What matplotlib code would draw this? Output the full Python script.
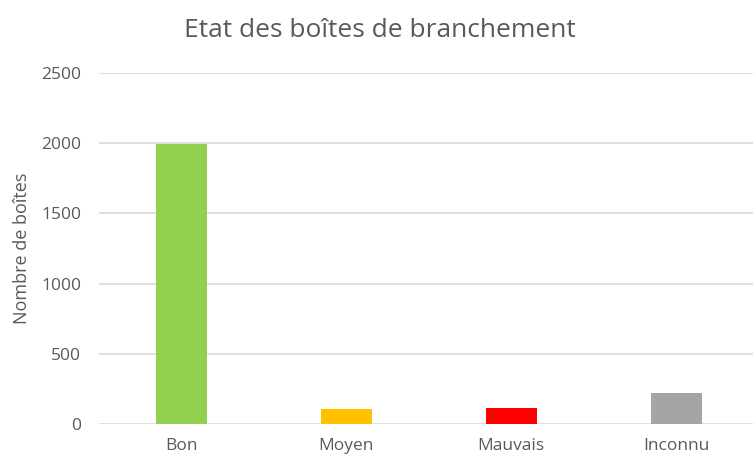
import matplotlib
matplotlib.use("Agg")
import matplotlib.pyplot as plt

categories = ["Bon", "Moyen", "Mauvais", "Inconnu"]
values = [1995, 107, 114, 221]
colors = ["#92d050", "#ffc000", "#ff0000", "#a5a5a5"]
yticks = [0, 500, 1000, 1500, 2000, 2500]

plt.rcParams['font.family'] = ['Open Sans', 'DejaVu Sans']

fig = plt.figure(figsize=(7.53, 4.58), dpi=100)
W, H = 753, 458
left, right = 99, 753
top, bottom = 73, 424
ax = fig.add_axes([left / W, (H - bottom) / H, (right - left) / W, (bottom - top) / H])

x = list(range(len(categories)))
ax.bar(x, values, width=0.31, color=colors, zorder=3)
ax.set_xlim(-0.5, 3.5 - (758.5 - 753) / 165)
ax.set_ylim(0, 2500)
ax.set_yticks(yticks)
ax.set_yticklabels([str(v) for v in yticks])
ax.set_xticks(x)
ax.set_xticklabels(categories)
ax.yaxis.grid(True, color="#d9d9d9", linewidth=1.2, zorder=0)
ax.set_axisbelow(True)
for s in ax.spines.values():
    s.set_visible(False)
ax.tick_params(axis="both", length=0, labelsize=12.5, colors="#595959")
ax.tick_params(axis="y", pad=13)
ax.tick_params(axis="x", pad=10)
ax.set_ylabel("Nombre de boîtes", fontsize=13, color="#595959", labelpad=7)
fig.text(380 / W, 1 - 37 / H, "Etat des boîtes de branchement", ha="center", va="baseline",
         fontsize=19, color="#595959")
fig.savefig("out.png", dpi=100, facecolor="white")
